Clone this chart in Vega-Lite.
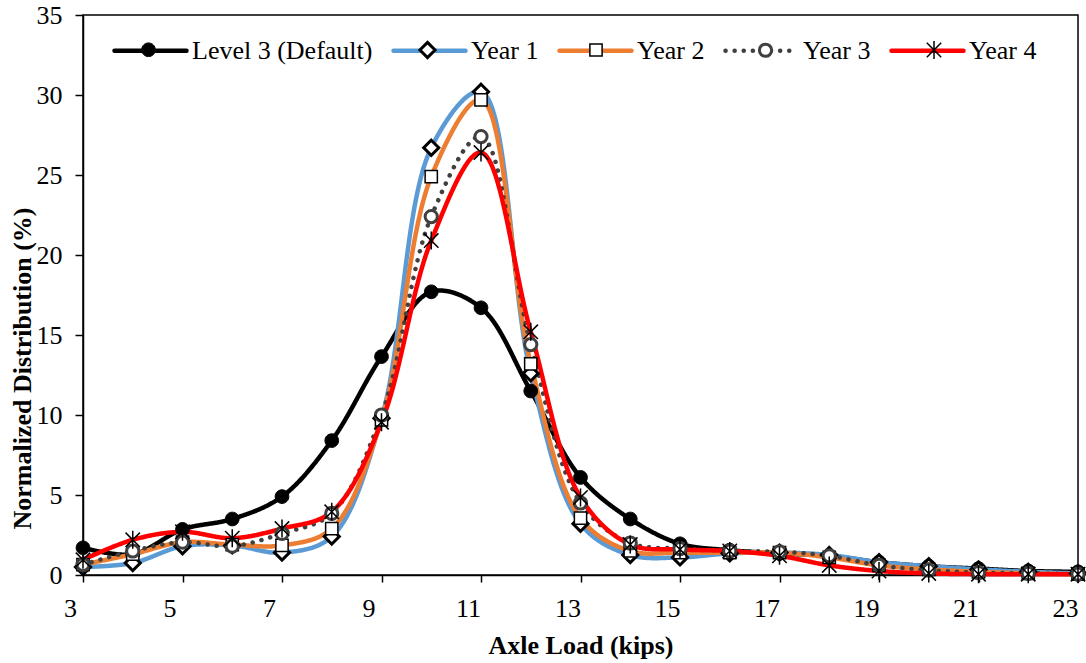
{
  "$schema": "https://vega.github.io/schema/vega-lite/v6.json",
  "width": 995,
  "height": 560,
  "autosize": {"type": "none"},
  "padding": {"left": 83, "top": 15, "right": 8, "bottom": 88},
  "background": "white",
  "config": {
    "view": {"stroke": "black", "strokeWidth": 1.5},
    "axis": {
      "grid": false,
      "domainColor": "black",
      "domainWidth": 1.5,
      "tickColor": "black",
      "tickWidth": 1.5,
      "labelFont": "Liberation Serif",
      "labelFontSize": 26,
      "labelColor": "black",
      "labelFlush": false,
      "labelOverlap": false,
      "titleFont": "Liberation Serif",
      "titleFontSize": 26,
      "titleFontWeight": "bold",
      "titleColor": "black"
    },
    "legend": {
      "labelFont": "Liberation Serif",
      "labelFontSize": 26,
      "labelColor": "black",
      "labelLimit": 400
    }
  },
  "data": {
    "values": [
      {"load": 3, "pct": 1.7, "series": "Level 3 (Default)"},
      {"load": 4, "pct": 1.3, "series": "Level 3 (Default)"},
      {"load": 5, "pct": 2.85, "series": "Level 3 (Default)"},
      {"load": 6, "pct": 3.5, "series": "Level 3 (Default)"},
      {"load": 7, "pct": 4.9, "series": "Level 3 (Default)"},
      {"load": 8, "pct": 8.4, "series": "Level 3 (Default)"},
      {"load": 9, "pct": 13.65, "series": "Level 3 (Default)"},
      {"load": 10, "pct": 17.7, "series": "Level 3 (Default)"},
      {"load": 11, "pct": 16.7, "series": "Level 3 (Default)"},
      {"load": 12, "pct": 11.5, "series": "Level 3 (Default)"},
      {"load": 13, "pct": 6.1, "series": "Level 3 (Default)"},
      {"load": 14, "pct": 3.5, "series": "Level 3 (Default)"},
      {"load": 15, "pct": 1.95, "series": "Level 3 (Default)"},
      {"load": 16, "pct": 1.55, "series": "Level 3 (Default)"},
      {"load": 17, "pct": 1.35, "series": "Level 3 (Default)"},
      {"load": 18, "pct": 1.2, "series": "Level 3 (Default)"},
      {"load": 19, "pct": 0.8, "series": "Level 3 (Default)"},
      {"load": 20, "pct": 0.55, "series": "Level 3 (Default)"},
      {"load": 21, "pct": 0.4, "series": "Level 3 (Default)"},
      {"load": 22, "pct": 0.25, "series": "Level 3 (Default)"},
      {"load": 23, "pct": 0.2, "series": "Level 3 (Default)"},
      {"load": 3, "pct": 0.5, "series": "Year 1"},
      {"load": 4, "pct": 0.75, "series": "Year 1"},
      {"load": 5, "pct": 1.8, "series": "Year 1"},
      {"load": 6, "pct": 1.85, "series": "Year 1"},
      {"load": 7, "pct": 1.4, "series": "Year 1"},
      {"load": 8, "pct": 2.4, "series": "Year 1"},
      {"load": 9, "pct": 9.8, "series": "Year 1"},
      {"load": 10, "pct": 26.7, "series": "Year 1"},
      {"load": 11, "pct": 30.2, "series": "Year 1"},
      {"load": 12, "pct": 12.6, "series": "Year 1"},
      {"load": 13, "pct": 3.2, "series": "Year 1"},
      {"load": 14, "pct": 1.25, "series": "Year 1"},
      {"load": 15, "pct": 1.1, "series": "Year 1"},
      {"load": 16, "pct": 1.35, "series": "Year 1"},
      {"load": 17, "pct": 1.4, "series": "Year 1"},
      {"load": 18, "pct": 1.25, "series": "Year 1"},
      {"load": 19, "pct": 0.8, "series": "Year 1"},
      {"load": 20, "pct": 0.55, "series": "Year 1"},
      {"load": 21, "pct": 0.35, "series": "Year 1"},
      {"load": 22, "pct": 0.2, "series": "Year 1"},
      {"load": 23, "pct": 0.1, "series": "Year 1"},
      {"load": 3, "pct": 0.65, "series": "Year 2"},
      {"load": 4, "pct": 1.3, "series": "Year 2"},
      {"load": 5, "pct": 2.05, "series": "Year 2"},
      {"load": 6, "pct": 1.9, "series": "Year 2"},
      {"load": 7, "pct": 1.85, "series": "Year 2"},
      {"load": 8, "pct": 2.9, "series": "Year 2"},
      {"load": 9, "pct": 9.7, "series": "Year 2"},
      {"load": 10, "pct": 24.9, "series": "Year 2"},
      {"load": 11, "pct": 29.7, "series": "Year 2"},
      {"load": 12, "pct": 13.2, "series": "Year 2"},
      {"load": 13, "pct": 3.55, "series": "Year 2"},
      {"load": 14, "pct": 1.5, "series": "Year 2"},
      {"load": 15, "pct": 1.4, "series": "Year 2"},
      {"load": 16, "pct": 1.4, "series": "Year 2"},
      {"load": 17, "pct": 1.4, "series": "Year 2"},
      {"load": 18, "pct": 1.1, "series": "Year 2"},
      {"load": 19, "pct": 0.6, "series": "Year 2"},
      {"load": 20, "pct": 0.35, "series": "Year 2"},
      {"load": 21, "pct": 0.2, "series": "Year 2"},
      {"load": 22, "pct": 0.1, "series": "Year 2"},
      {"load": 23, "pct": 0.05, "series": "Year 2"},
      {"load": 3, "pct": 0.65, "series": "Year 3"},
      {"load": 4, "pct": 1.5, "series": "Year 3"},
      {"load": 5, "pct": 2.05, "series": "Year 3"},
      {"load": 6, "pct": 1.8, "series": "Year 3"},
      {"load": 7, "pct": 2.6, "series": "Year 3"},
      {"load": 8, "pct": 3.85, "series": "Year 3"},
      {"load": 9, "pct": 10.0, "series": "Year 3"},
      {"load": 10, "pct": 22.4, "series": "Year 3"},
      {"load": 11, "pct": 27.4, "series": "Year 3"},
      {"load": 12, "pct": 14.4, "series": "Year 3"},
      {"load": 13, "pct": 4.5, "series": "Year 3"},
      {"load": 14, "pct": 2.0, "series": "Year 3"},
      {"load": 15, "pct": 1.65, "series": "Year 3"},
      {"load": 16, "pct": 1.5, "series": "Year 3"},
      {"load": 17, "pct": 1.45, "series": "Year 3"},
      {"load": 18, "pct": 1.2, "series": "Year 3"},
      {"load": 19, "pct": 0.6, "series": "Year 3"},
      {"load": 20, "pct": 0.3, "series": "Year 3"},
      {"load": 21, "pct": 0.15, "series": "Year 3"},
      {"load": 22, "pct": 0.1, "series": "Year 3"},
      {"load": 23, "pct": 0.05, "series": "Year 3"},
      {"load": 3, "pct": 0.95, "series": "Year 4"},
      {"load": 4, "pct": 2.2, "series": "Year 4"},
      {"load": 5, "pct": 2.7, "series": "Year 4"},
      {"load": 6, "pct": 2.3, "series": "Year 4"},
      {"load": 7, "pct": 2.9, "series": "Year 4"},
      {"load": 8, "pct": 3.95, "series": "Year 4"},
      {"load": 9, "pct": 9.55, "series": "Year 4"},
      {"load": 10, "pct": 20.9, "series": "Year 4"},
      {"load": 11, "pct": 26.4, "series": "Year 4"},
      {"load": 12, "pct": 15.2, "series": "Year 4"},
      {"load": 13, "pct": 4.85, "series": "Year 4"},
      {"load": 14, "pct": 1.9, "series": "Year 4"},
      {"load": 15, "pct": 1.6, "series": "Year 4"},
      {"load": 16, "pct": 1.5, "series": "Year 4"},
      {"load": 17, "pct": 1.2, "series": "Year 4"},
      {"load": 18, "pct": 0.6, "series": "Year 4"},
      {"load": 19, "pct": 0.25, "series": "Year 4"},
      {"load": 20, "pct": 0.1, "series": "Year 4"},
      {"load": 21, "pct": 0.05, "series": "Year 4"},
      {"load": 22, "pct": 0.05, "series": "Year 4"},
      {"load": 23, "pct": 0.05, "series": "Year 4"}
    ]
  },
  "layer": [
    {
      "mark": {"type": "line", "interpolate": "catmull-rom", "strokeWidth": 4.5, "strokeCap": "round"},
      "encoding": {
        "x": {
          "field": "load", "type": "quantitative",
          "scale": {"domain": [3, 23], "nice": false, "zero": false},
          "axis": {
            "values": [3, 5, 7, 9, 11, 13, 15, 17, 19, 21, 23],
            "tickSize": 7, "labelPadding": 13, "labelOffset": -13,
            "title": "Axle Load (kips)", "titleY": 70, "titleBaseline": "middle"
          }
        },
        "y": {
          "field": "pct", "type": "quantitative",
          "scale": {"domain": [0, 35], "nice": false},
          "axis": {
            "values": [0, 5, 10, 15, 20, 25, 30, 35],
            "tickSize": 8, "labelPadding": 13,
            "title": "Normalized Distribution (%)",
            "titleX": -61, "titleY": 353, "titleAngle": 270,
            "titleAlign": "center", "titleBaseline": "middle"
          }
        },
        "color": {
          "field": "series", "type": "nominal",
          "scale": {"range": ["#000000", "#5B9BD5", "#ED7D31", "#404040", "#FF0000"]},
          "legend": {
            "orient": "none", "legendX": 29, "legendY": -3, "direction": "horizontal",
            "title": null, "symbolType": "stroke", "symbolSize": 5184, "symbolStrokeWidth": 4.5,
            "labelOffset": 3, "columnPadding": 11, "padding": 0,
            "encode": {"symbols": {"update": {"strokeCap": {"value": "round"}}}}
          }
        },
        "strokeDash": {
          "field": "series", "type": "nominal",
          "scale": {"range": [[1, 0], [1, 0], [1, 0], [0.1, 9], [1, 0]]},
          "legend": {
            "orient": "none", "legendX": 29, "legendY": -3, "direction": "horizontal",
            "title": null, "symbolType": "stroke", "symbolSize": 5184, "symbolStrokeWidth": 4.5,
            "labelOffset": 3, "columnPadding": 11, "padding": 0,
            "encode": {"symbols": {"update": {"strokeCap": {"value": "round"}}}}
          }
        }
      }
    },
    {
      "transform": [{"filter": "isValid(datum.pct)"}],
      "mark": {"type": "point", "opacity": 1, "size": 5184},
      "encoding": {
        "x": {"field": "load", "type": "quantitative"},
        "y": {"field": "pct", "type": "quantitative"},
        "shape": {
          "field": "series", "type": "nominal",
          "scale": {"range": [
            "M-1.0972,0M6.139,0M-0.19,0A0.19,0.19,0,1,1,0.19,0A0.19,0.19,0,1,1,-0.19,0Z",
            "M-1.0417,0M3.014,0M0,-0.21L0.21,0L0,0.21L-0.21,0Z",
            "M-1.0833,0M3.056,0M-0.17,-0.17L0.17,-0.17L0.17,0.17L-0.17,0.17Z",
            "M-1.0417,0M3.014,0M-0.17,0A0.17,0.17,0,1,1,0.17,0A0.17,0.17,0,1,1,-0.17,0Z",
            "M-1.0833,0M3.056,0M-0.2,-0.2L0.2,0.2M-0.2,0.2L0.2,-0.2M0,-0.25L0,0.25"
          ]},
          "legend": {
            "orient": "none", "legendX": 29, "legendY": -3, "direction": "horizontal",
            "title": null, "symbolSize": 5184, "symbolStrokeWidth": 4.5, "labelExpr": "''",
            "labelOffset": 3, "columnPadding": 11, "padding": 0,
            "encode": {"symbols": {"update": {"strokeWidth": {"signal": "datum.value === 'Year 1' || datum.value === 'Year 3' ? 3 : (datum.value === 'Level 3 (Default)' ? 1 : 1.5)"}}}}
          }
        },
        "fill": {
          "field": "series", "type": "nominal",
          "scale": {"range": ["#000000", "#FFFFFF", "#FFFFFF", "#FFFFFF", "transparent"]},
          "legend": {
            "orient": "none", "legendX": 29, "legendY": -3, "direction": "horizontal",
            "title": null, "symbolSize": 5184, "symbolStrokeWidth": 4.5, "labelExpr": "''",
            "labelOffset": 3, "columnPadding": 11, "padding": 0,
            "encode": {"symbols": {"update": {"strokeWidth": {"signal": "datum.value === 'Year 1' || datum.value === 'Year 3' ? 3 : (datum.value === 'Level 3 (Default)' ? 1 : 1.5)"}}}}
          }
        },
        "stroke": {
          "field": "series", "type": "nominal",
          "scale": {"range": ["#000000", "#000000", "#000000", "#404040", "#000000"]},
          "legend": {
            "orient": "none", "legendX": 29, "legendY": -3, "direction": "horizontal",
            "title": null, "symbolSize": 5184, "symbolStrokeWidth": 4.5, "labelExpr": "''",
            "labelOffset": 3, "columnPadding": 11, "padding": 0,
            "encode": {"symbols": {"update": {"strokeWidth": {"signal": "datum.value === 'Year 1' || datum.value === 'Year 3' ? 3 : (datum.value === 'Level 3 (Default)' ? 1 : 1.5)"}}}}
          }
        },
        "strokeWidth": {
          "field": "series", "type": "nominal",
          "scale": {"type": "ordinal", "range": [1, 3, 1.5, 3, 1.5]},
          "legend": null
        }
      }
    }
  ]
}
